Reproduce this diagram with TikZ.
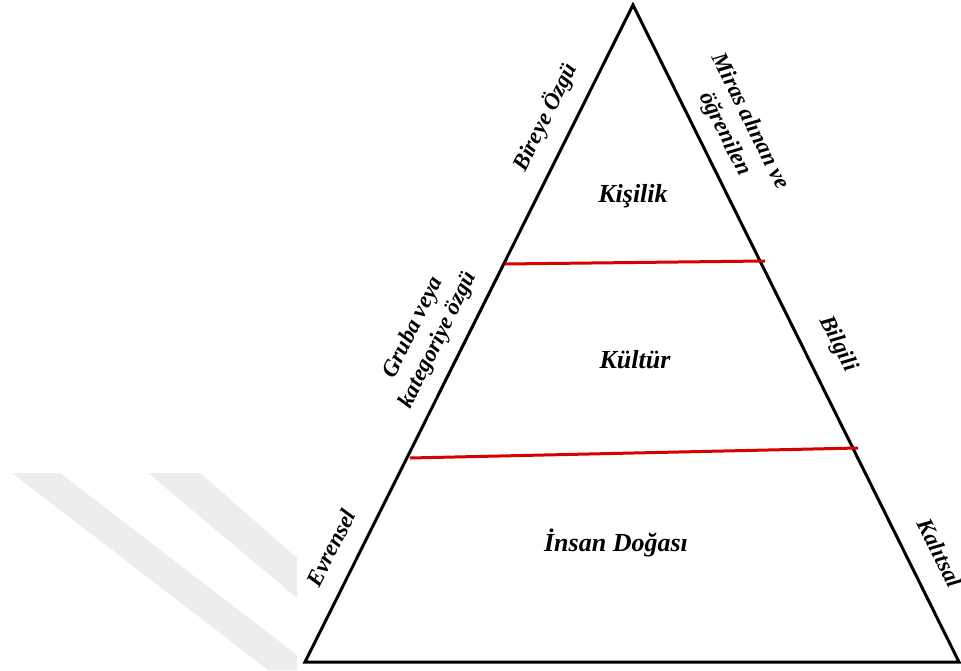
\documentclass[tikz,border=0pt]{standalone}
\usepackage{fontspec}
\setmainfont{Liberation Serif}
\begin{document}
\begin{tikzpicture}[x=1pt, y=1pt, line width=3pt,
    lbl/.style={font=\fontsize{23}{28}\selectfont\bfseries\itshape, align=center, inner sep=0pt},
    level/.style={font=\fontsize{26}{30}\selectfont\bfseries\itshape, inner sep=0pt},
    sep/.style={red!85!black, line width=3pt}]
        \useasboundingbox (0,0) rectangle (961,670);
        % watermark bands
        \fill[black!7] (12,197) -- (60,197) -- (297,15) -- (297,0) -- (268,0) -- cycle;
        \fill[black!7] (148,197) -- (200,197) -- (297,112) -- (297,72) -- cycle;

        \coordinate (apex) at (633,665);
        \coordinate (bl) at (305,8);
        \coordinate (br) at (959,8);
        \draw (apex) -- (br) -- (bl) -- cycle;

        \coordinate (upL) at (505,406);
        \coordinate (upR) at (765,409);
        \coordinate (loL) at (410,212);
        \coordinate (loR) at (858,222);
        \draw[sep] (upL) -- (upR);
        \draw[sep] (loL) -- (loR);

        \node[level] (kisilik) at (633,474) {Kişilik};
        \node[level] (kultur) at (635,310) {Kültür};
        \node[level] (doga) at (616,127) {İnsan Doğası};

        \node[lbl, rotate=63.5] (birey) at (545,553) {Bireye Özgü};
        \node[lbl, rotate=63.5] (grup) at (426,336) {Gruba veya\\kategoriye özgü};
        \node[lbl, rotate=63.5] (evren) at (331,122) {Evrensel};
        \node[lbl, rotate=-63.5] (miras) at (737,542) {Miras alınan ve\\öğrenilen};
        \node[lbl, rotate=-63.5] (bilgi) at (838,326) {Bilgili};
        \node[lbl, rotate=-63.5] (kalit) at (940,117) {Kalıtsal};
    \end{tikzpicture}
\end{document}
